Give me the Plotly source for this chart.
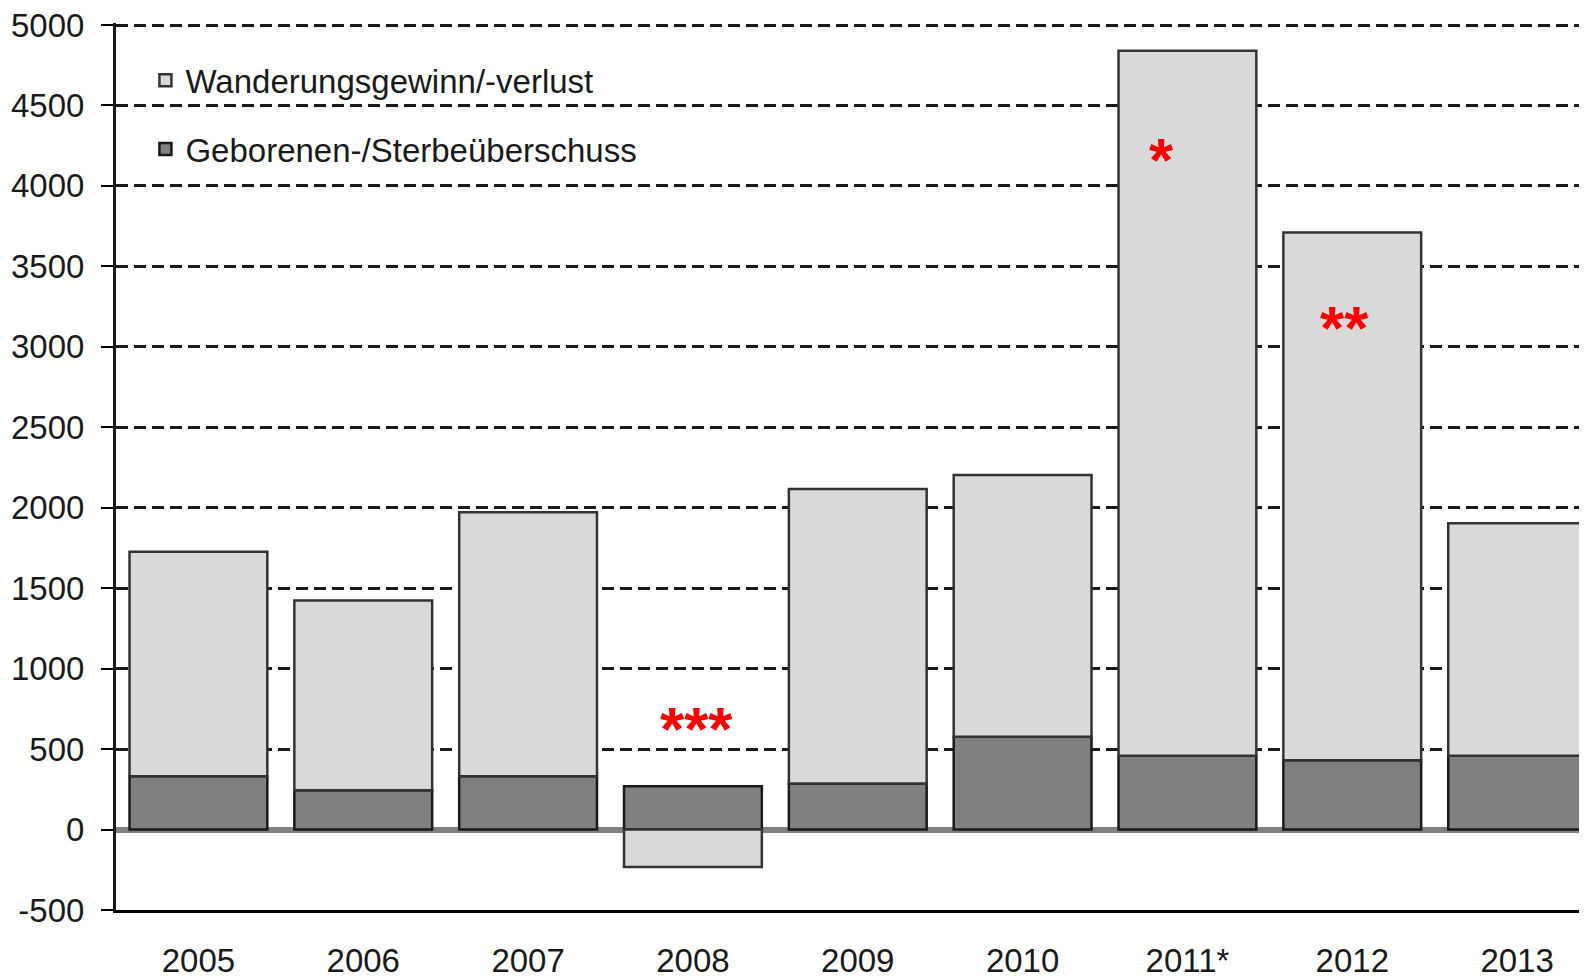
import plotly.graph_objects as go

years = ["2005", "2006", "2007", "2008", "2009", "2010", "2011*", "2012", "2013"]
geborenen = [331, 244, 331, 269, 286, 576, 458, 431, 458]
wanderung = [1395, 1180, 1641, -232, 1831, 1628, 4382, 3280, 1445]
y_ticks = list(range(-500, 5001, 500))

star_x = [5.84, 6.95, 3.02]
star_y = [4166, 3122, 626]
star_text = ["*", "**", "***"]

FONT = "Liberation Sans, Arial, sans-serif"
xs = list(range(len(years)))

fig = go.Figure()
fig.add_trace(go.Bar(
    x=xs, y=geborenen, name="Geborenen-/Sterbeüberschuss",
    marker=dict(color="#808080", line=dict(color="#1a1a1a", width=2.5)),
    legendgroup="g", legendrank=2,
))
fig.add_trace(go.Bar(
    x=xs, y=wanderung, name="Wanderungsgewinn/-verlust",
    marker=dict(color="#d9d9d9", line=dict(color="#333333", width=2.5)),
    legendgroup="w", legendrank=1,
))

for sx, sy, st in zip(star_x, star_y, star_text):
    fig.add_annotation(x=sx, y=sy, text="<b>" + st + "</b>", showarrow=False,
                       font=dict(color="#ff0000", size=62, family="Arial, sans-serif"))

fig.update_layout(
    width=1587, height=979,
    margin=dict(l=108, r=8, t=15, b=77),
    barmode="relative", bargap=0.164,
    plot_bgcolor="white", paper_bgcolor="white",
    font=dict(family=FONT, color="#1a1a1a", size=33),
    showlegend=True,
    legend=dict(x=0.02, y=0.967, xanchor="left", yanchor="top",
                bgcolor="rgba(0,0,0,0)", tracegroupgap=23,
                font=dict(size=33, family=FONT, color="#1a1a1a")),
    xaxis=dict(range=[-0.5, 8.424], tickmode="array", tickvals=xs, ticktext=years,
               showline=True, linecolor="#000000", linewidth=3, showgrid=False,
               ticks="", ticklabelstandoff=19, zeroline=False, automargin=False,
               ticklabeloverflow="allow"),
    yaxis=dict(range=[-500, 5012.4], tickmode="array", tickvals=y_ticks,
               ticktext=[str(v) for v in y_ticks],
               showline=True, linecolor="#1a1a1a", linewidth=3,
               ticks="outside", ticklen=12, tickwidth=2, tickcolor="#000000",
               showgrid=True, gridcolor="#1a1a1a", gridwidth=2.5, griddash="12px,6px",
               zeroline=True, zerolinecolor="#808080", zerolinewidth=6,
               ticklabelstandoff=10, automargin=False, ticklabeloverflow="allow"),
)

fig.write_html("out.html")
